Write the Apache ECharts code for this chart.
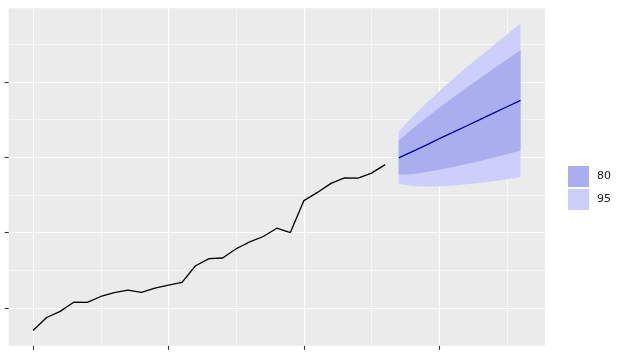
<!DOCTYPE html>
<html>
<head>
<meta charset="utf-8">
<script src="https://cdn.jsdelivr.net/npm/echarts@6/dist/echarts.min.js"></script>
<style>html,body{margin:0;padding:0;background:#fff}#c{width:630px;height:353px}</style>
</head>
<body>
<div id="c"></div>
<script>
// Observed series (yearly)
const years = [1990,1991,1992,1993,1994,1995,1996,1997,1998,1999,2000,2001,2002,2003,2004,2005,2006,2007,2008,2009,2010,2011,2012,2013,2014,2015,2016];
const observed = [17.55,21.86,23.89,26.93,26.89,28.83,30.08,30.95,30.19,31.58,32.58,33.48,39.02,41.39,41.60,44.66,46.95,48.73,51.49,50.03,60.64,63.36,66.36,68.20,68.12,69.78,72.60];
// Forecast horizon
const fcYears = [2017,2018,2019,2020,2021,2022,2023,2024,2025,2026];
const fcMean = [74.8,76.9,79.0,81.2,83.3,85.4,87.5,89.7,91.8,93.9];
const lo80 = [69.2,69.4,70.1,70.9,71.8,72.8,73.8,74.9,76.1,77.2];
const hi80 = [80.5,84.4,88.0,91.5,94.8,98.1,101.2,104.4,107.5,110.6];
const lo95 = [66.2,65.5,65.3,65.4,65.7,66.1,66.6,67.1,67.7,68.4];
const hi95 = [83.4,88.4,92.8,96.9,100.9,104.8,108.5,112.2,115.8,119.4];
const levels = ['80','95'];
const xMajor = [1990,2000,2010,2020];
const xMinor = [1995,2005,2015,2025];
const yMajor = [25,50,75,100];
const yMinor = [37.5,62.5,87.5,112.5];

const C80 = '#A9AEEE', C95 = '#CBCFF9';
const pair = (xs, ys) => xs.map((x, i) => [x, ys[i]]);

const xmin = 1988.2, xmax = 2027.8, ymin = 12.46, ymax = 124.5;

// ribbon drawn as one polygon through the axis scales
const ribbon = (name, lo, hi, color, z) => ({
  type: 'custom', name, color, itemStyle: { color }, silent: true, z,
  data: fcYears.map((x, i) => [x, lo[i], hi[i]]),
  encode: { x: 0, y: [1, 2] },
  renderItem: (params, api) => {
    if (params.dataIndex !== 0) return null;
    const top = fcYears.map((x, i) => api.coord([x, hi[i]]));
    const bot = fcYears.map((x, i) => api.coord([x, lo[i]])).reverse();
    return { type: 'polygon', shape: { points: top.concat(bot) }, style: { fill: color } };
  }
});

const chart = echarts.init(document.getElementById('c'), null, { renderer: 'canvas' });
chart.setOption({
  animation: false,
  backgroundColor: '#ffffff',
  grid: { left: 8.7, right: 85.1, top: 8.2, bottom: 7.2, show: true, backgroundColor: '#EBEBEB', borderWidth: 0 },
  legend: {
    data: levels, orient: 'vertical', left: 568, top: 166, padding: 0,
    icon: 'rect', itemWidth: 21, itemHeight: 21, itemGap: 2,
    textStyle: { fontSize: 11, color: '#1a1a1a', fontFamily: 'DejaVu Sans', padding: [0,0,0,3] },
    selectedMode: false
  },
  xAxis: [
    { type: 'value', min: xmin, max: xmax, axisLine: { show: false },
      axisTick: { show: true, length: 4, lineStyle: { color: '#333333', width: 1.1 }, customValues: xMajor },
      axisLabel: { show: false, customValues: xMajor },
      splitLine: { show: true, lineStyle: { color: '#ffffff', width: 1.2 } } },
    { type: 'value', min: xmin, max: xmax, position: 'bottom', axisLine: { show: false },
      axisTick: { show: false, customValues: xMinor },
      axisLabel: { show: false, customValues: xMinor },
      splitLine: { show: true, lineStyle: { color: '#ffffff', width: 0.6 } } }
  ],
  yAxis: [
    { type: 'value', min: ymin, max: ymax, axisLine: { show: false },
      axisTick: { show: true, length: 4, lineStyle: { color: '#333333', width: 1.1 }, customValues: yMajor },
      axisLabel: { show: false, customValues: yMajor },
      splitLine: { show: true, lineStyle: { color: '#ffffff', width: 1.2 } } },
    { type: 'value', min: ymin, max: ymax, position: 'left', axisLine: { show: false },
      axisTick: { show: false, customValues: yMinor },
      axisLabel: { show: false, customValues: yMinor },
      splitLine: { show: true, lineStyle: { color: '#ffffff', width: 0.6 } } }
  ],
  series: [
    ribbon('95', lo95, hi95, C95, 2),
    ribbon('80', lo80, hi80, C80, 3),
    { type: 'line', name: 'observed', data: pair(years, observed), showSymbol: false, symbol: 'none',
      lineStyle: { color: '#000000', width: 1.3 }, itemStyle: { color: '#000' }, z: 4, silent: true },
    { type: 'line', name: 'mean', data: pair(fcYears, fcMean), showSymbol: false, symbol: 'none',
      lineStyle: { color: '#0000AA', width: 1.3 }, itemStyle: { color: '#0000AA' }, z: 5, silent: true }
  ]
});
</script>
</body>
</html>
